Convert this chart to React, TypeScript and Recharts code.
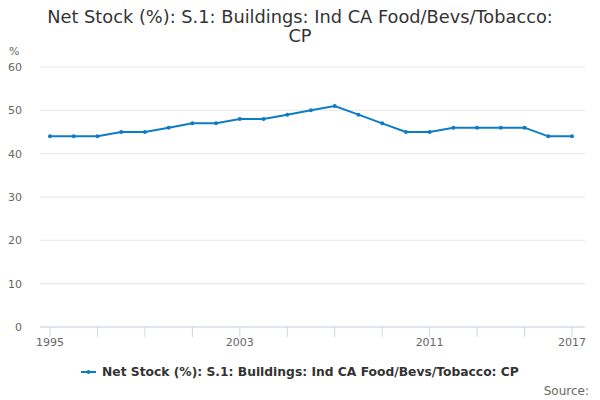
import { CartesianGrid, Line, LineChart, XAxis, YAxis } from "recharts";

const years = [
  1995, 1996, 1997, 1998, 1999, 2000, 2001, 2002, 2003, 2004, 2005, 2006,
  2007, 2008, 2009, 2010, 2011, 2012, 2013, 2014, 2015, 2016, 2017,
];
const netStock = [
  44, 44, 44, 45, 45, 46, 47, 47, 48, 48, 49, 50, 51, 49, 47, 45, 45, 46, 46,
  46, 46, 44, 44,
];
const xTicks = [1995, 1997, 1999, 2001, 2003, 2005, 2007, 2009, 2011, 2013, 2015, 2017];
const xLabels = [1995, 2003, 2011, 2017];
const yTicks = [0, 10, 20, 30, 40, 50, 60];

const seriesName = "Net Stock (%): S.1: Buildings: Ind CA Food/Bevs/Tobacco: CP";
const lineColour = "#0e7cc5";
const font = "'DejaVu Sans', Verdana, sans-serif";

const data = years.map((year, i) => ({ year, value: netStock[i] }));

export default function App() {
  return (
    <div
      style={{
        position: "fixed",
        top: 0,
        left: 0,
        width: 600,
        height: 400,
        background: "#fff",
        fontFamily: font,
      }}
    >
      <div
        style={{
          position: "absolute",
          top: 7,
          left: 0,
          width: 600,
          textAlign: "center",
          fontSize: 17.8,
          lineHeight: "19px",
          color: "#333",
        }}
      >
        Net Stock (%): S.1: Buildings: Ind CA Food/Bevs/Tobacco:
        <br />
        CP
      </div>
      <div style={{ position: "absolute", top: 45, left: 9, fontSize: 11, color: "#666" }}>%</div>
      <LineChart
        width={600}
        height={400}
        data={data}
        margin={{ top: 67, right: 15, left: 0, bottom: 43 }}
        style={{ fontFamily: font }}
      >
        <CartesianGrid vertical={false} stroke="#e6e6e6" />
        <XAxis
          dataKey="year"
          type="number"
          domain={[1995, 2017]}
          ticks={xTicks}
          padding={{ left: 10, right: 13 }}
          height={30}
          stroke="#ccd6eb"
          tickSize={10}
          tickMargin={1}
          tick={{ fill: "#666", fontSize: 11 }}
          tickFormatter={(v: number) => (xLabels.includes(v) ? String(v) : "")}
          interval={0}
        />
        <YAxis
          domain={[0, 60]}
          ticks={yTicks}
          width={40}
          axisLine={false}
          tickLine={false}
          tickMargin={12}
          tick={{ fill: "#666", fontSize: 11 }}
        />
        <Line
          type="linear"
          dataKey="value"
          stroke={lineColour}
          strokeWidth={2}
          dot={{ r: 2, fill: lineColour, stroke: lineColour, strokeWidth: 0 }}
          isAnimationActive={false}
        />
      </LineChart>
      <div
        style={{
          position: "absolute",
          top: 365,
          left: 81,
          display: "flex",
          alignItems: "center",
          fontSize: 12.3,
          fontWeight: "bold",
          color: "#333",
        }}
      >
        <svg width={16} height={12} style={{ marginRight: 5 }}>
          <line x1={0} y1={6} x2={15} y2={6} stroke={lineColour} strokeWidth={2} />
          <circle cx={7.5} cy={6} r={2} fill={lineColour} />
        </svg>
        {seriesName}
      </div>
      <div
        style={{
          position: "absolute",
          top: 384,
          right: 11,
          fontSize: 12,
          color: "#666",
        }}
      >
        Source:
      </div>
    </div>
  );
}
